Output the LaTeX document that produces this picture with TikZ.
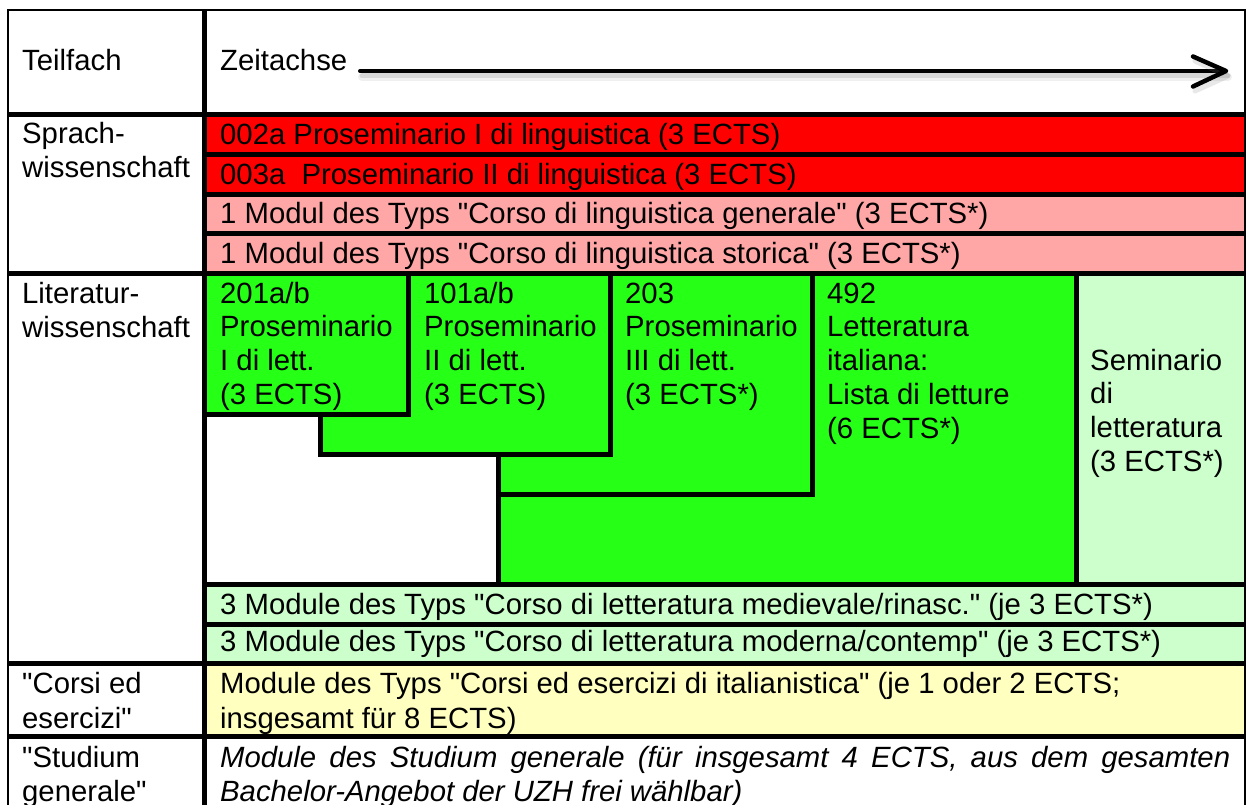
\documentclass[tikz,border=0pt]{standalone}
\usepackage{fontspec}
\setmainfont{Liberation Sans}[Ligatures=TeXOff]
\definecolor{cred}{HTML}{FF0000}
\definecolor{cpink}{HTML}{FFA6A6}
\definecolor{cgreen}{HTML}{26FF16}
\definecolor{clgreen}{HTML}{CCFFCC}
\definecolor{cyellow}{HTML}{FFFFC0}
\begin{document}
\begin{tikzpicture}[x=1pt,y=-1pt,
  txt/.style={anchor=base west,inner sep=0pt,font=\fontsize{29.3}{34.5}\selectfont},
  gridline/.style={line width=5pt},
  gbox/.style={fill=cgreen,draw=black,line width=5pt,line join=miter}]
\useasboundingbox (0,0) rectangle (1248,805);
\clip (0,0) rectangle (1248,805);
\fill[white] (0,0) rectangle (1248,805);
% row fills
\fill[cred] (204,115) rectangle (1245,154.5);
\fill[cred] (204,154.5) rectangle (1245,195);
\fill[cpink] (204,195) rectangle (1245,234);
\fill[cpink] (204,234) rectangle (1245,274);
\fill[clgreen] (204,584.5) rectangle (1245,663.5);
\fill[cyellow] (204,663.5) rectangle (1245,736.5);
\fill[clgreen] (1076,274) rectangle (1245,584.5);
% staircase boxes
\path[gbox] (498,274) rectangle (1076,584.5);
\path[gbox] (498,274) rectangle (812,494.5);
\path[gbox] (320,274) rectangle (610,454.5);
\path[gbox] (204,274) rectangle (408,414.5);
% grid lines
\draw[gridline] (8,115) -- (1245,115);
\draw[gridline] (204,154.5) -- (1245,154.5);
\draw[gridline] (204,195) -- (1245,195);
\draw[gridline] (204,234) -- (1245,234);
\draw[gridline] (8,274) -- (1245,274);
\draw[gridline] (204,584.5) -- (1245,584.5);
\draw[gridline] (204,624.5) -- (1245,624.5);
\draw[gridline] (8,663.5) -- (1245,663.5);
\draw[gridline] (8,736.5) -- (1245,736.5);
\draw[gridline] (204,10) -- (204,820);
\draw[line width=2.5pt] (8,10) rectangle (1245,820);
% time axis arrow
\coordinate (as) at (360,71);
\coordinate (at) at (1226,71);
\draw[line width=5pt,gray,opacity=0.22,line cap=round] ([shift={(2,5)}]as) -- ([shift={(2,5)}]at);
\draw[line width=8pt,gray,opacity=0.12,line cap=round] ([shift={(2,6)}]as) -- ([shift={(2,6)}]at);
\draw[line width=4pt,line cap=round] (as) -- (at);
\draw[line width=5pt,gray,opacity=0.18,line cap=round,line join=round] ([shift={(-31,-10)}]at) -- ([shift={(2,5)}]at) -- ([shift={(-31,20)}]at);
\draw[line width=4.5pt,line cap=round,line join=round] ([shift={(-33,-14.5)}]at) -- (at) -- ([shift={(-33,15.5)}]at);
% header
\node[txt] (teil) at (22,71) {Teilfach};
\node[txt] (zeit) at (220,71) {Zeitachse};
% left column
\node[txt] (sp1) at (22,143.5) {Sprach-};
\node[txt] (sp2) at (22,178) {wissenschaft};
\node[txt] (li1) at (22,303) {Literatur-};
\node[txt] (li2) at (22,337) {wissenschaft};
\node[txt] (co1) at (22,693) {"Corsi ed};
\node[txt] (co2) at (22,728) {esercizi"};
\node[txt] (st1) at (22,767) {"Studium};
\node[txt] (st2) at (22,801) {generale"};
% Sprachwissenschaft rows
\node[txt] (r1) at (220,144.5) {002a Proseminario I di linguistica (3 ECTS)};
\node[txt] (r2) at (220,184.5) {003a\ \ Proseminario II di linguistica (3 ECTS)};
\node[txt] (r3) at (220,223.5) {1 Modul des Typs "Corso di linguistica generale" (3 ECTS*)};
\node[txt] (r4) at (220,263) {1 Modul des Typs "Corso di linguistica storica" (3 ECTS*)};
% 201a/b
\node[txt] (a1) at (220,303) {201a/b};
\node[txt] (a2) at (220,336.8) {Proseminario};
\node[txt] (a3) at (220,370.6) {I di lett.};
\node[txt] (a4) at (220,404.4) {(3 ECTS)};
% 101a/b
\node[txt] (b1) at (424,303) {101a/b};
\node[txt] (b2) at (424,336.8) {Proseminario};
\node[txt] (b3) at (424,370.6) {II di lett.};
\node[txt] (b4) at (424,404.4) {(3 ECTS)};
% 203
\node[txt] (c1) at (625,303) {203};
\node[txt] (c2) at (625,336.8) {Proseminario};
\node[txt] (c3) at (625,370.6) {III di lett.};
\node[txt] (c4) at (625,404.4) {(3 ECTS*)};
% 492
\node[txt] (d1) at (827,303) {492};
\node[txt] (d2) at (827,336.8) {Letteratura};
\node[txt] (d3) at (827,370.6) {italiana:};
\node[txt] (d4) at (827,404.4) {Lista di letture};
\node[txt] (d5) at (827,438.2) {(6 ECTS*)};
% Seminario
\node[txt] (e1) at (1090,370) {Seminario};
\node[txt] (e2) at (1090,403.8) {di};
\node[txt] (e3) at (1090,437.6) {letteratura};
\node[txt] (e4) at (1090,471.4) {(3 ECTS*)};
% light green rows
\node[txt] (g1) at (220,614) {3 Module des Typs "Corso di letteratura medievale/rinasc." (je 3 ECTS*)};
\node[txt] (g2) at (220,651) {3 Module des Typs "Corso di letteratura moderna/contemp" (je 3 ECTS*)};
% yellow row
\node[txt] (y1) at (220,693) {Module des Typs "Corsi ed esercizi di italianistica" (je 1 oder 2 ECTS;};
\node[txt] (y2) at (220,728) {insgesamt für 8 ECTS)};
% Studium generale row
\node[txt] (s1) at (220,767) {\itshape\makebox[1010pt][s]{Module des Studium generale (für insgesamt 4 ECTS, aus dem gesamten}};
\node[txt] (s2) at (220,801) {\itshape Bachelor-Angebot der UZH frei wählbar)};
\end{tikzpicture}
\end{document}
